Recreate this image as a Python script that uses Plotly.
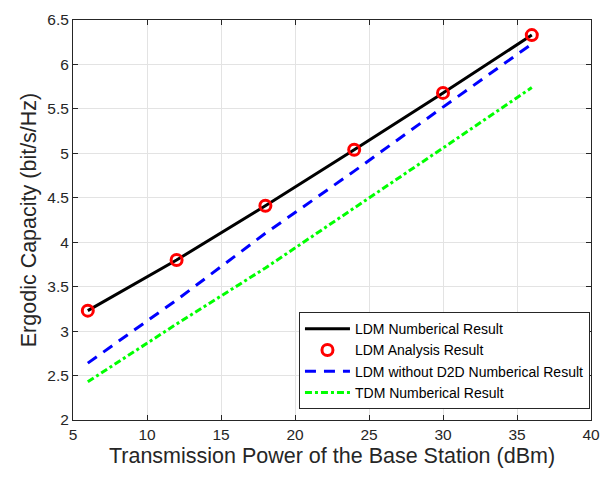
import plotly.graph_objects as go

power = [6, 12, 18, 24, 30, 36]
ldm_num = [3.23, 3.80, 4.41, 5.04, 5.68, 6.33]
ldm_ana = [3.23, 3.80, 4.41, 5.04, 5.68, 6.33]
ldm_no_d2d = [2.64, 3.35, 4.10, 4.80, 5.52, 6.23]
tdm_num = [2.43, 3.08, 3.71, 4.38, 5.06, 5.74]

x_ticks = [5, 10, 15, 20, 25, 30, 35, 40]
y_ticks = [2, 2.5, 3, 3.5, 4, 4.5, 5, 5.5, 6, 6.5]

FONT = "Liberation Sans, Arial, Helvetica"

fig = go.Figure()
fig.add_trace(go.Scatter(x=power, y=ldm_num, mode="lines", name="LDM Numberical Result",
                         line=dict(color="black", width=3)))
fig.add_trace(go.Scatter(x=power, y=ldm_ana, mode="markers", name="LDM Analysis Result",
                         marker=dict(symbol="circle-open", size=11, color="red", line=dict(width=3, color="red"))))
fig.add_trace(go.Scatter(x=power, y=ldm_no_d2d, mode="lines", name="LDM without D2D Numberical Result",
                         line=dict(color="blue", width=3, dash="11px,8px")))
fig.add_trace(go.Scatter(x=power, y=tdm_num, mode="lines", name="TDM Numberical Result",
                         line=dict(color="#00ff00", width=3, dash="7px,3px,3px,3px")))

axis_common = dict(showgrid=True, gridcolor="#e3e3e3", gridwidth=1, showline=True,
                   linecolor="#262626", linewidth=1, mirror="ticks", ticks="inside",
                   ticklen=5, tickcolor="#262626", zeroline=False,
                   tickfont=dict(family=FONT, size=15.5, color="#262626"))

fig.update_xaxes(range=[5, 40], tickvals=x_ticks, ticktext=[str(v) for v in x_ticks],
                 title=dict(text="Transmission Power of the Base Station (dBm)",
                            font=dict(family=FONT, size=21.5, color="#262626"), standoff=6),
                 **axis_common)
fig.update_yaxes(range=[2, 6.5], tickvals=y_ticks, ticktext=[f"{v:g}" for v in y_ticks],
                 title=dict(text="Ergodic Capacity (bit/s/Hz)",
                            font=dict(family=FONT, size=21.5, color="#262626"), standoff=4),
                 **axis_common)

fig.update_layout(
    width=611, height=477,
    margin=dict(l=73, r=17, t=11, b=57),
    paper_bgcolor="white", plot_bgcolor="white",
    showlegend=True,
    legend=dict(x=0.998, y=0.027, xanchor="right", yanchor="bottom",
                bgcolor="white", bordercolor="#262626", borderwidth=1,
                font=dict(family=FONT, size=14, color="black"),
                tracegroupgap=0, itemwidth=45),
)

fig.write_html("out.html")
